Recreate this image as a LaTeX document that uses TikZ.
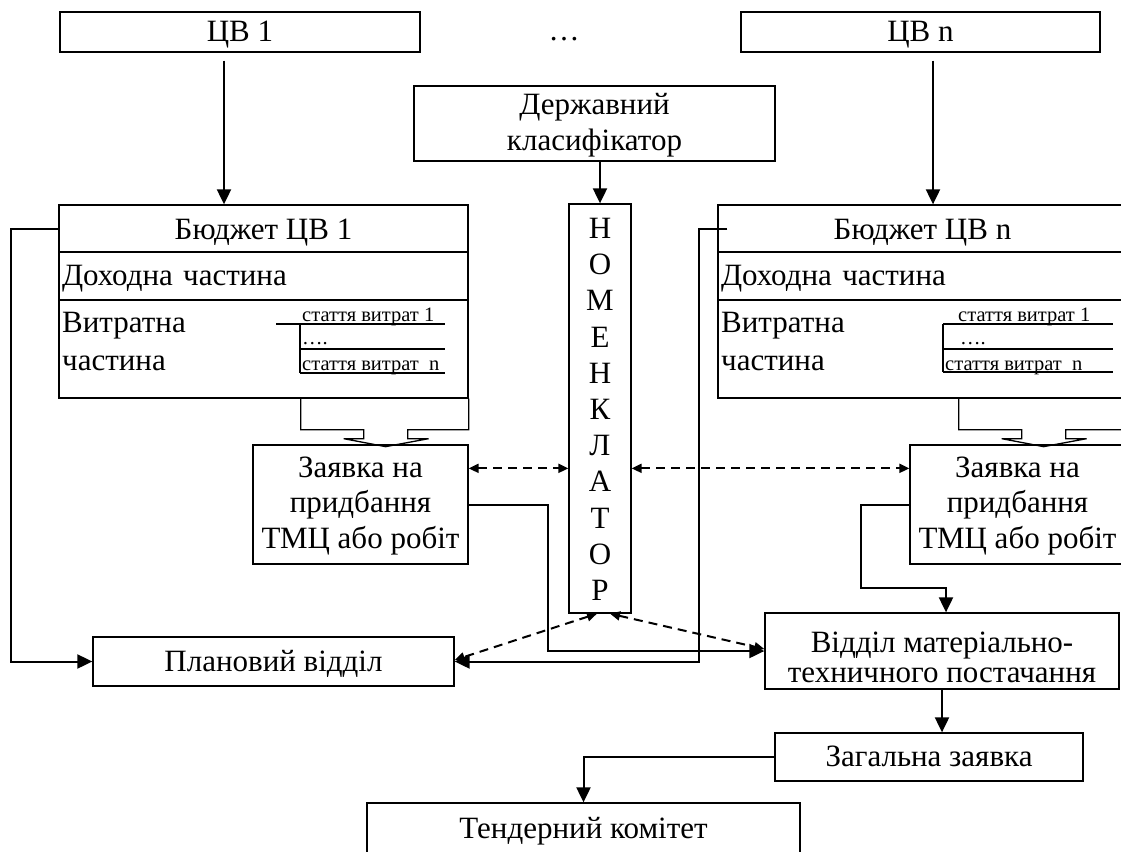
\documentclass[tikz,border=0pt]{standalone}
\usepackage{fontspec}
\setmainfont{Liberation Serif}
\usetikzlibrary{arrows.meta,calc}
\newcommand\mytop[1]{\rule{0pt}{#1}}
\newcommand\mybot[1]{\rule[-#1]{0pt}{#1}}
\newcommand\bigf{\fontsize{31pt}{36pt}\selectfont}
\newcommand\smallf{\fontsize{20.5pt}{24pt}\selectfont}
\newcommand\nomf{\fontsize{31pt}{36.2pt}\selectfont}
\newcommand\zfont{\fontsize{31pt}{35.5pt}\selectfont}
\newcommand\vfont{\fontsize{31pt}{30pt}\selectfont}
\begin{document}
\begin{tikzpicture}[x=1pt,y=-1pt,
  frame/.style={draw, line width=1.3pt, inner sep=0pt, font=\bigf},
  box/.style={frame, text height=25pt, text depth=6pt},
  txt/.style={inner sep=0pt, font=\bigf},
  stxt/.style={inner sep=0pt, font=\smallf, anchor=base west},
  thinl/.style={line width=1.3pt},
  arr/.style={line width=2pt, -{Triangle[length=15pt,width=14pt]}},
  darr/.style={line width=2pt, dash pattern=on 9pt off 6pt,
    {Triangle[length=10pt,width=9pt]}-{Triangle[length=10pt,width=9pt]}}]
\useasboundingbox (0,0) rectangle (1121,851);
\clip (0,0) rectangle (1121,851);
\fill[white] (0,0) rectangle (1121,851);

% top row
\node[box, minimum width=360pt, minimum height=40pt] (cv1) at (240,32) {ЦВ 1};
\node[txt, anchor=base] (dots) at (564,41) {…};
\node[box, minimum width=359pt, minimum height=40pt] (cvn) at (920.5,32) {ЦВ n};
\node[frame, minimum width=361pt, minimum height=75pt, align=center] (dk) at (594.5,123.5)
  {\mytop{24pt}Державний\\класифікатор\mybot{7pt}};

% nomenclator
\node[frame, minimum width=62pt, minimum height=409pt, align=center, font=\nomf] (nom) at (600,408.5)
  {\mytop{22pt}Н\\О\\М\\Е\\Н\\К\\Л\\А\\Т\\О\\Р};

% budget 1
\node[box, minimum width=409pt, minimum height=47pt, text height=27pt] (b1t) at (263.5,228.5) {Бюджет ЦВ 1};
\node[box, minimum width=409pt, minimum height=48pt, text width=403pt, align=left] (b1d) at (263.5,276) {Доходна частина};
\node[frame, minimum width=409pt, minimum height=98pt] (b1v) at (263.5,349) {};
\node[txt, anchor=base west] (b1v1) at (62,332) {Витратна};
\node[txt, anchor=base west] (b1v2) at (62,370) {частина};
\node[stxt] (b1s1) at (302,321.5) {стаття витрат 1};
\node[stxt] (b1s2) at (302,344) {….};
\node[stxt] (b1s3) at (302,370) {стаття витрат\ \ n};
\draw[thinl] (276,324) -- (445,324);
\draw[thinl] (300,324) -- (300,373);
\draw[thinl] (300,349) -- (445,349);
\draw[thinl] (300,373) -- (445,373);

% budget n
\node[box, minimum width=409pt, minimum height=47pt, text height=27pt] (bnt) at (922.5,228.5) {Бюджет ЦВ n};
\node[box, minimum width=409pt, minimum height=48pt, text width=403pt, align=left] (bnd) at (922.5,276) {Доходна частина};
\node[frame, minimum width=409pt, minimum height=98pt] (bnv) at (922.5,349) {};
\node[txt, anchor=base west] (bnv1) at (721,332) {Витратна};
\node[txt, anchor=base west] (bnv2) at (721,370) {частина};
\node[stxt] (bns1) at (958,321.5) {стаття витрат 1};
\node[stxt] (bns2) at (960,344) {….};
\node[stxt] (bns3) at (945,370) {стаття витрат\ \ n};
\draw[thinl] (943,324) -- (1113,324);
\draw[thinl] (943,324) -- (943,372);
\draw[thinl] (943,349) -- (1113,349);
\draw[thinl] (943,372) -- (1113,372);

% hollow arrows
\draw[thinl] (b1v.south east) -- ++(0,31) -- ++(-61,0) -- ++(0,9) -- ++(21,0) -- ++(-43,8)
  -- ++(-42,-8) -- ++(20,0) -- ++(0,-9) -- ++(-63,0) -- ++(0,-31);
\draw[thinl] ([xshift=-1pt]bnv.south east) -- ++(0,31) -- ++(-61,0) -- ++(0,9) -- ++(21,0) -- ++(-43,8)
  -- ++(-42,-8) -- ++(20,0) -- ++(0,-9) -- ++(-63,0) -- ++(0,-31);

% requests
\node[frame, minimum width=215pt, minimum height=119pt, align=center, font=\zfont] (z1) at (360.5,504.5)
  {\mytop{23pt}Заявка на\\придбання\\ТМЦ або робіт\mybot{7pt}};
\node[frame, minimum width=215pt, minimum height=119pt, align=center, font=\zfont] (zn) at (1017.5,504.5)
  {\mytop{23pt}Заявка на\\придбання\\ТМЦ або робіт\mybot{7pt}};

% lower boxes
\node[box, minimum width=361pt, minimum height=49pt] (plan) at (273.5,661.5) {Плановий відділ};
\node[frame, minimum width=354pt, minimum height=76pt, align=center, font=\vfont] (vmtp) at (942,651)
  {\mytop{36pt}Відділ матеріально-\\техничного постачання\mybot{4pt}};
\node[box, minimum width=308pt, minimum height=48pt] (zag) at (929,757) {Загальна заявка};
\node[box, minimum width=433pt, minimum height=51pt] (ten) at (583.5,828.5) {Тендерний комітет};

% solid connectors
\draw[arr, shorten <=8pt] ([xshift=-16pt]cv1.south) -- ([xshift=-16pt]cv1.south |- b1t.north);
\draw[arr, shorten <=8pt] ([xshift=12.5pt]cvn.south) -- ([xshift=12.5pt]cvn.south |- bnt.north);
\draw[arr] (nom.north |- dk.south) -- (nom.north);
\draw[arr] (b1t.west) -- ++(-47,0) |- (plan.west);
\draw[arr] ([xshift=10pt]bnt.west) -- ++(-28,0) |- (plan.east);
\draw[arr] (z1.east) -- ++(79,0) |- (vmtp.west);
\draw[arr] (zn.west) -- ++(-48,0) -- ++(0,83) -| ([xshift=4pt]vmtp.north);
\draw[arr] (vmtp.south) -- (vmtp.south |- zag.north);
\draw[arr] (zag.west) -| (ten.north);

% dashed connectors
\coordinate (dy) at ([yshift=-24pt]z1.north east);
\draw[darr] (dy) -- (dy -| nom.west);
\draw[darr] (dy -| nom.east) -- (dy -| zn.west);
\draw[darr] ([xshift=-3pt]nom.south) -- ([yshift=1.5pt]plan.east);
\draw[darr] ([xshift=10pt]nom.south) -- ([yshift=2pt]vmtp.west);
\end{tikzpicture}
\end{document}
